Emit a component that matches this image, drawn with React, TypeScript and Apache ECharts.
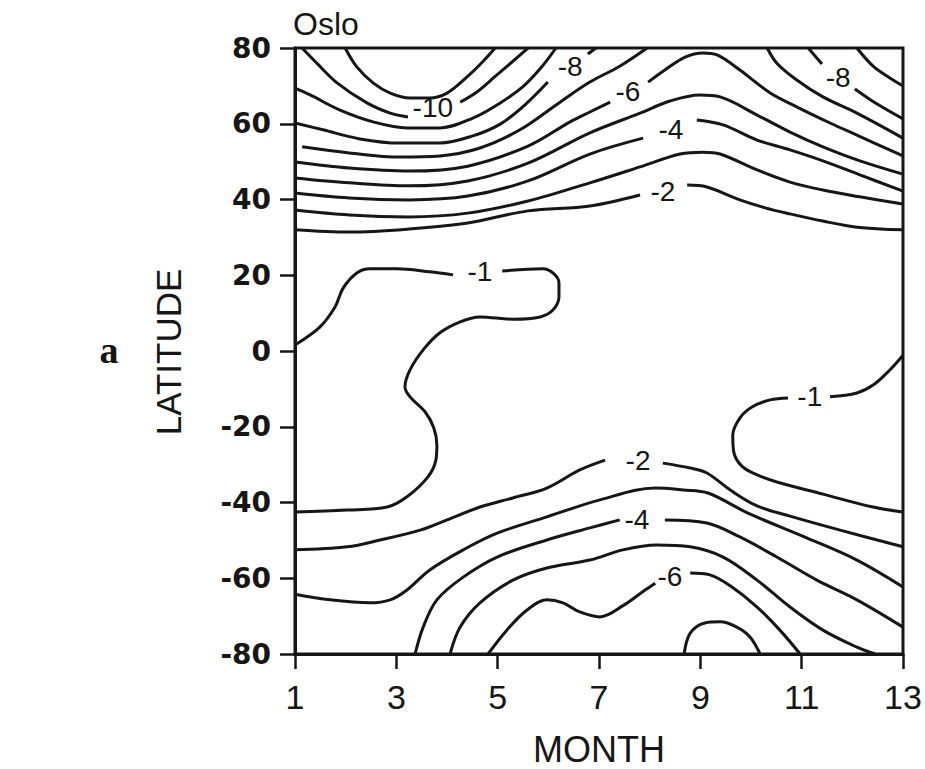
import React, { useEffect, useRef } from 'react';
import * as echarts from 'echarts';

// Axis ticks
const monthTicks = [1, 3, 5, 7, 9, 11, 13];
const latMin = -80;
const latMax = 80;
const latStep = 20;

// Contour segments, points are [month, latitude]
// Northern hemisphere
const cN11 = [[1.99, 80], [2.22, 75.0], [2.54, 70.8], [2.88, 68.1], [3.27, 66.8], [3.66, 66.8], [4.0, 68.1], [4.39, 72.3], [4.7, 76.3], [4.95, 80]];
const cN10a = [[1.14, 80], [1.43, 76.0], [1.83, 70.8], [2.42, 65.5], [2.88, 62.8], [3.23, 61.8]];
const cN10b = [[4.26, 65.7], [4.59, 68.4], [4.95, 72.5], [5.3, 76.5], [5.6, 80]];
const cN9 = [[1, 69.4], [1.3, 67.6], [1.89, 63.6], [2.54, 60.5], [3.21, 58.9], [3.86, 58.9], [4.51, 61.5], [5.05, 65.5], [5.5, 69.8], [5.85, 74.7], [6.15, 80]];
const cN8a = [[1, 60.2], [1.55, 58.4], [2.28, 56.0], [3.07, 54.9], [3.86, 54.9], [4.51, 56.8], [5.05, 59.9], [5.54, 65.0], [5.99, 71.0]];
const cN8b = [[6.78, 78.4], [6.94, 80]];
const cN7 = [[1.14, 53.9], [2.07, 52.3], [3.07, 51.2], [3.86, 51.5], [4.65, 53.6], [5.44, 58.4], [6.23, 65.7], [6.82, 71.0], [7.41, 75.2], [7.95, 80]];
const cN6a = [[1, 49.9], [2.07, 48.3], [3.25, 47.5], [4.41, 48.8], [5.6, 54.1], [6.43, 60.5], [6.82, 63.1], [7.22, 65.7]];
const cN6b = [[7.97, 71.0], [8.3, 74.2], [8.7, 77.6], [9.05, 78.7], [9.33, 78.2], [9.78, 74.2], [10.38, 68.1], [10.91, 64.4], [11.56, 60.2], [12.09, 57.0], [13, 51.5]];
const cN5 = [[1, 45.7], [2.07, 44.4], [3.25, 43.6], [4.41, 44.9], [5.6, 49.6], [6.82, 57.6], [7.81, 62.8], [8.4, 66.0], [8.99, 67.6], [9.39, 67.1], [10.12, 62.3], [10.77, 57.8], [11.42, 53.9], [12.15, 50.2], [13, 46.7]];
const cN4a = [[1, 41.7], [2.07, 40.4], [3.25, 39.9], [4.41, 40.9], [5.6, 44.9], [6.82, 52.0], [7.87, 56.2]];
const cN4b = [[8.93, 61.0], [9.45, 59.7], [10.12, 55.7], [10.77, 53.1], [11.42, 50.2], [12.15, 46.5], [13, 42.2]];
const cN3 = [[1, 37.2], [2.07, 35.9], [3.25, 35.4], [4.41, 36.4], [5.6, 39.6], [6.82, 44.4], [7.81, 48.6], [8.6, 52.0], [9.05, 52.5], [9.39, 52.0], [10.12, 47.8], [10.77, 44.6], [11.42, 42.5], [12.15, 40.7], [13, 38.8]];
const cN2a = [[1, 32.0], [2.07, 31.4], [3.25, 32.2], [4.41, 33.8], [5.6, 37.0], [6.82, 38.3], [7.81, 41.2]];
const cN2b = [[8.74, 43.8], [9.13, 43.3], [9.78, 39.9], [10.28, 37.8], [10.77, 36.2], [11.42, 34.3], [12.09, 32.7], [13, 32.0]];
// Right-hand top corner
const cR7 = [[10.32, 80], [10.51, 76.0], [10.91, 71.5], [11.42, 67.1], [12.09, 62.8], [13, 56.2]];
const cR8a = [[11.13, 80], [11.4, 75.8]];
const cR8b = [[12.05, 69.2], [12.49, 65.2], [13, 61.3]];
const cR9 = [[12.09, 80], [12.41, 75.2], [12.74, 72.1], [13, 70.0]];
// Tropics (-1)
const cT1a = [[1, 1.6], [1.49, 6.3], [1.79, 11.6], [1.95, 16.6], [2.22, 20.6], [2.48, 21.7], [3.01, 21.7], [3.66, 20.9], [4.12, 20.1]];
const cT1b = [[5.09, 21.1], [5.89, 21.7], [6.09, 20.6], [6.21, 18.0], [6.21, 14.3], [6.09, 10.8], [5.84, 9.0], [5.3, 8.4], [4.65, 9.0], [4.26, 7.7], [3.86, 4.8], [3.53, 0.3], [3.27, -5.0], [3.17, -9.5], [3.27, -12.1], [3.57, -16.1], [3.74, -20.3], [3.8, -24.8], [3.78, -28.8], [3.62, -33.3], [3.21, -38.5], [2.82, -41.2], [2.03, -42.0], [1, -42.5]];
const cT1c = [[13, -1.1], [12.74, -5.0], [12.41, -9.0], [12.09, -11.1], [11.56, -12.1]];
const cT1d = [[10.73, -12.4], [10.38, -12.9], [10.02, -14.8], [9.78, -17.7], [9.64, -22.2], [9.66, -26.7], [9.82, -30.4], [10.12, -32.7], [10.51, -34.6], [11.42, -37.8], [12.41, -41.2], [13, -42.5]];
// Southern hemisphere
const cS2a = [[1, -52.5], [2.03, -51.7], [2.68, -49.9], [3.47, -47.3], [4.0, -44.6], [4.65, -41.2], [5.3, -38.8], [5.97, -36.2], [6.62, -31.4], [7.12, -28.8]];
const cS2b = [[8.26, -29.6], [8.8, -30.9], [9.13, -32.2], [9.59, -36.7], [10.12, -40.9], [10.77, -43.6], [11.76, -47.3], [13, -51.7]];
const cS3 = [[1, -64.2], [1.69, -65.7], [2.48, -66.5], [2.88, -65.7], [3.21, -63.1], [3.66, -57.8], [4.32, -52.5], [4.99, -48.1], [5.97, -43.8], [7.02, -39.3], [8.12, -36.2], [8.66, -36.7], [9.15, -37.5], [9.94, -42.8], [11.11, -49.4], [12.09, -55.2], [13, -62.3]];
const cS4a = [[3.37, -80], [3.53, -72.9], [3.8, -65.7], [4.32, -59.7], [4.99, -54.4], [5.97, -49.9], [6.82, -46.7], [7.41, -44.6]];
const cS4b = [[8.3, -44.6], [9.13, -45.4], [9.78, -49.1], [10.51, -54.4], [11.3, -60.5], [12.09, -65.7], [13, -72.9]];
const cS5 = [[4.06, -80], [4.26, -72.9], [4.65, -66.5], [5.3, -60.5], [5.97, -57.3], [6.82, -55.2], [7.47, -52.5], [8.14, -51.2], [8.8, -51.7], [9.45, -54.4], [10.12, -60.5], [10.77, -67.6], [11.42, -73.7], [12.09, -78.2], [12.45, -80]];
const cS6a = [[4.81, -80], [5.18, -73.7], [5.58, -68.4], [5.97, -65.7], [6.29, -66.5], [6.62, -68.9], [7.02, -70.2], [7.49, -67.1], [7.91, -63.1], [8.11, -61.3]];
const cS6b = [[8.8, -58.6], [9.19, -59.1], [9.59, -62.0], [10.12, -67.6], [10.57, -73.7], [10.97, -80]];
const cS7 = [[8.68, -80], [8.8, -74.5], [9.09, -71.8], [9.39, -71.5], [9.72, -72.9], [9.98, -75.5], [10.18, -80]];

const contourSegments = [
  cN11, cN10a, cN10b, cN9, cN8a, cN8b, cN7, cN6a, cN6b, cN5, cN4a, cN4b, cN3, cN2a, cN2b,
  cR7, cR8a, cR8b, cR9,
  cT1a, cT1b, cT1c, cT1d,
  cS2a, cS2b, cS3, cS4a, cS4b, cS5, cS6a, cS6b, cS7,
];

// Contour labels: text and [month, latitude]
const labelTexts = ['-10', '-8', '-8', '-6', '-4', '-2', '-1', '-1', '-2', '-4', '-6'];
const labelPositions = [
  [3.72, 64.2], [6.43, 75.2], [11.72, 72.3], [7.57, 68.4], [8.42, 58.6], [8.26, 42.0],
  [4.65, 20.9], [11.16, -12.1], [7.77, -28.8], [7.75, -44.4], [8.4, -59.6],
];

const INK = '#161616';

export default function App() {
  const ref = useRef<HTMLDivElement>(null);

  useEffect(() => {
    document.body.style.margin = '0';
    if (!ref.current) return;
    const chart = echarts.init(ref.current, null, { renderer: 'svg' });

    const lineSeries = contourSegments.map((seg) => ({
      type: 'line',
      data: seg,
      smooth: 0.35,
      symbol: 'none',
      silent: true,
      clip: true,
      lineStyle: { color: INK, width: 3 },
      z: 2,
    }));

    const labelSeries = {
      type: 'scatter',
      symbolSize: 1,
      silent: true,
      itemStyle: { color: 'rgba(255,255,255,0)' },
      data: labelTexts.map((t, i) => ({ name: t, value: labelPositions[i] })),
      label: {
        show: true,
        position: 'inside',
        formatter: '{b}',
        fontFamily: 'Liberation Sans',
        fontSize: 28,
        color: INK,
        textBorderWidth: 0,
        opacity: 1,
      },
      z: 3,
    };

    chart.setOption({
      animation: false,
      backgroundColor: '#ffffff',
      grid: {
        left: 295,
        right: 22,
        top: 48,
        bottom: 115,
        show: true,
        borderColor: INK,
        borderWidth: 3,
        backgroundColor: 'transparent',
      },
      xAxis: {
        type: 'value',
        min: 1,
        max: 13,
        axisLine: { show: true, onZero: false, lineStyle: { color: INK, width: 3 } },
        axisTick: {
          show: true,
          customValues: monthTicks,
          length: 15,
          lineStyle: { color: INK, width: 2.5 },
        },
        axisLabel: {
          customValues: monthTicks,
          margin: 26,
          fontFamily: 'Liberation Sans',
          fontSize: 34,
          color: INK,
        },
        splitLine: { show: false },
      },
      yAxis: {
        type: 'value',
        min: latMin,
        max: latMax,
        interval: latStep,
        axisLine: { show: true, onZero: false, lineStyle: { color: INK, width: 3 } },
        axisTick: { show: true, length: 15, lineStyle: { color: INK, width: 2.5 } },
        axisLabel: {
          margin: 24,
          fontFamily: 'DejaVu Sans',
          fontWeight: 'bold',
          fontSize: 28,
          color: INK,
        },
        splitLine: { show: false },
      },
      graphic: [
        {
          type: 'text',
          x: 293,
          y: 24,
          style: { text: 'Oslo', fontFamily: 'Liberation Sans', fontSize: 32, fill: INK, align: 'left', verticalAlign: 'middle' },
        },
        {
          type: 'text',
          x: 168,
          y: 352,
          rotation: Math.PI / 2,
          style: { text: 'LATITUDE', fontFamily: 'Liberation Sans', fontSize: 35, fill: INK, align: 'center', verticalAlign: 'middle' },
        },
        {
          type: 'text',
          x: 599,
          y: 749,
          style: { text: 'MONTH', fontFamily: 'Liberation Sans', fontSize: 36, fill: INK, align: 'center', verticalAlign: 'middle' },
        },
        {
          type: 'text',
          x: 109,
          y: 350,
          style: { text: 'a', fontFamily: 'Liberation Serif', fontWeight: 'bold', fontSize: 38, fill: INK, align: 'center', verticalAlign: 'middle' },
        },
      ],
      series: [...lineSeries, labelSeries],
    });

    return () => chart.dispose();
  }, []);

  return <div ref={ref} style={{ width: 925, height: 769 }} />;
}
